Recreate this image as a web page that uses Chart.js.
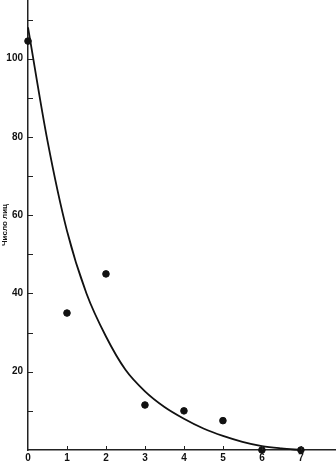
<!DOCTYPE html>
<html>
<head>
<meta charset="utf-8">
<script src="https://cdn.jsdelivr.net/npm/chart.js@4/dist/chart.umd.min.js"></script>
<style>
  html, body { margin: 0; padding: 0; background: #fff; }
  #wrap { width: 336px; height: 463px; }
</style>
</head>
<body>
<div id="wrap"><canvas id="chart"></canvas></div>
<script>
// наблюдаемые значения
const obsX = [0, 1, 2, 3, 4, 5, 6, 7];
const obsY = [104.5, 35, 45, 11.5, 10, 7.5, 0, 0];

// сглаженная кривая
const fitX = [0, 0.5, 1, 1.5, 2, 2.5, 3, 3.5, 4, 4.5, 5, 5.5, 6, 6.5, 7];
const fitY = [108, 79, 56, 40, 29, 20.5, 15, 11, 8, 5.5, 3.6, 2.1, 1, 0.4, 0];

const xTickValues = [0, 1, 2, 3, 4, 5, 6, 7];
const yTickValues = [20, 40, 60, 80, 100];
const yMinorTicks = [10, 20, 30, 40, 50, 60, 70, 80, 90, 100, 110];

const tickFont = { family: 'Liberation Sans, Arial, sans-serif', size: 10, weight: 'bold' };

// засечки внутрь осей
const innerTicks = {
    id: 'innerTicks',
    afterDraw(chart) {
        const ctx = chart.ctx;
        const x = chart.scales.x, y = chart.scales.y;
        ctx.save();
        ctx.strokeStyle = '#222';
        ctx.lineWidth = 1;
        yMinorTicks.forEach(v => {
            const py = Math.round(y.getPixelForValue(v)) + 0.5;
            ctx.beginPath();
            ctx.moveTo(x.left, py);
            ctx.lineTo(x.left + 5, py);
            ctx.stroke();
        });
        xTickValues.forEach(v => {
            if (v === 0) return;
            const px = Math.round(x.getPixelForValue(v)) + 0.5;
            ctx.beginPath();
            ctx.moveTo(px, y.bottom);
            ctx.lineTo(px, y.bottom - 4);
            ctx.stroke();
        });
        ctx.restore();
    }
};

new Chart(document.getElementById('chart'), {
    type: 'scatter',
    data: {
        datasets: [
            {
                type: 'line',
                data: fitX.map((v, i) => ({ x: v, y: fitY[i] })),
                borderColor: '#111',
                borderWidth: 1.8,
                pointRadius: 0,
                cubicInterpolationMode: 'monotone',
                fill: false,
                clip: false,
            },
            {
                data: obsX.map((v, i) => ({ x: v, y: obsY[i] })),
                backgroundColor: '#111',
                borderColor: '#111',
                pointRadius: 3.3,
                clip: false,
            },
        ],
    },
    options: {
        responsive: true,
        maintainAspectRatio: false,
        animation: false,
        layout: { padding: 0, autoPadding: false },
        plugins: {
            legend: { display: false },
            tooltip: { enabled: false },
        },
        scales: {
            x: {
                type: 'linear',
                min: 0,
                max: 7.9,
                afterBuildTicks: scale => { scale.ticks = xTickValues.map(v => ({ value: v })); },
                afterFit: scale => {
                    scale.height = 13;
                    scale.paddingLeft = 0;
                    scale.paddingRight = 0;
                },
                grid: { display: false, drawTicks: false },
                border: { display: true, color: '#222', width: 1.5 },
                ticks: { color: '#111', font: tickFont, padding: 2, maxRotation: 0 },
            },
            y: {
                min: 0,
                max: 115,
                afterBuildTicks: scale => { scale.ticks = yTickValues.map(v => ({ value: v })); },
                afterFit: scale => {
                    scale.width = 28;
                    scale.paddingTop = 0;
                    scale.paddingBottom = 0;
                },
                grid: { display: false, drawTicks: false },
                border: { display: true, color: '#222', width: 1.5 },
                ticks: { color: '#111', font: tickFont, padding: 5 },
                title: {
                    display: true,
                    text: 'Число лиц',
                    color: '#111',
                    font: { family: 'Liberation Sans, Arial, sans-serif', size: 8, weight: 'bold' },
                    padding: { top: 0, bottom: 0 },
                },
            },
        },
    },
    plugins: [innerTicks],
});
</script>
</body>
</html>
